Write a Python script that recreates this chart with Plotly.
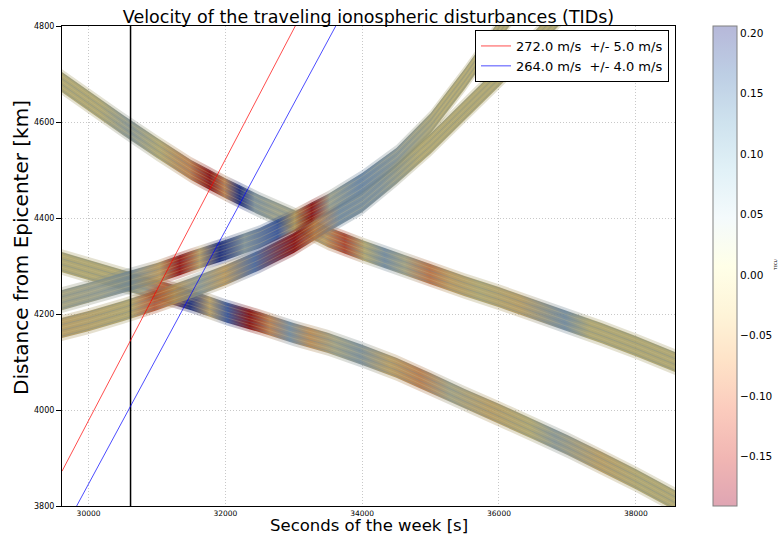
import plotly.graph_objects as go
from plotly.colors import get_colorscale, unlabel_rgb, hex_to_rgb

# ---------------- data ----------------
t_range = [29612, 38573]
d_range = [3800, 4800]
t_ticks = [30000, 32000, 34000, 36000, 38000]
d_ticks = [3800, 4000, 4200, 4400, 4600, 4800]
tec_range = [-0.191, 0.206]
cbar_ticks = [-0.15, -0.10, -0.05, 0.00, 0.05, 0.10, 0.15, 0.20]
cbar_text = ["\u22120.15", "\u22120.10", "\u22120.05", "0.00", "0.05", "0.10", "0.15", "0.20"]

event_t = 30614

vel_ms = [272.0, 264.0]
vel_err = [5.0, 4.0]
vel_ref_d = [4145, 4008]

knot_t = [29612, 30000, 30500, 31000, 31500, 32000, 32500, 33000, 33500, 34000,
          34500, 35000, 35500, 36000, 36500, 37000, 37500, 38000, 38573]

band_a_t = knot_t
band_a_d = [4683, 4644, 4594, 4546, 4500, 4462, 4427, 4396, 4360, 4333,
            4308, 4283, 4258, 4235, 4210, 4185, 4160, 4133, 4100]
band_b_t = knot_t
band_b_d = [4308, 4292, 4271, 4250, 4229, 4204, 4183, 4160, 4140, 4115,
            4088, 4056, 4023, 3992, 3960, 3927, 3892, 3856, 3812]
band_c_t = knot_t[:15]
band_c_d = [4229, 4244, 4265, 4285, 4310, 4333, 4358, 4392, 4429, 4473,
            4525, 4597, 4690, 4790, 4890]
band_d_t = knot_t[:16]
band_d_d = [4171, 4185, 4206, 4229, 4254, 4281, 4312, 4348, 4392, 4433,
            4492, 4555, 4625, 4695, 4765, 4840]

band_a_ct = [29612, 30161, 30614, 31039, 31478, 31770, 31990, 32209, 32429, 32721, 33087, 33453,
             33745, 34038, 34330, 34623, 34989, 35282, 35720, 36305, 36964, 37330, 38061, 38573]
band_a_tec = [0.0, 0.0, 0.04, 0.0, -0.05, -0.17, -0.05, 0.17, 0.05, 0.03, 0.02, -0.03,
              -0.10, 0.0, 0.06, 0.02, -0.06, -0.03, 0.0, -0.02, 0.06, 0.0, 0.0, 0.0]
band_b_ct = [29612, 30454, 30819, 31112, 31478, 31770, 32033, 32355, 32648, 32941, 33233,
             33599, 33965, 34404, 34843, 35282, 35867, 36452, 36818, 37476, 38061, 38573]
band_b_tec = [0.0, 0.0, 0.03, -0.08, 0.17, -0.02, 0.12, -0.18, -0.05, 0.06, -0.04,
              0.02, 0.05, -0.02, -0.05, 0.02, -0.02, 0.0, 0.04, -0.02, 0.0, 0.0]
band_c_ct = [29612, 30161, 30614, 31039, 31331, 31624, 31917, 32282, 32765, 33014, 33263,
             33526, 33965, 34550, 35135, 35720, 36500]
band_c_tec = [0.02, 0.03, 0.05, -0.03, -0.15, -0.02, 0.17, 0.05, 0.12, -0.02, -0.17,
              0.03, 0.07, 0.04, 0.0, 0.0, 0.0]
band_d_ct = [29612, 30614, 30965, 31258, 31624, 31990, 32429, 33014, 33307, 33672, 34257,
             34843, 37000]
band_d_tec = [-0.02, 0.0, -0.08, -0.03, 0.04, -0.03, 0.10, -0.17, -0.05, 0.06, 0.05,
              0.0, 0.0]

# ---------------- styling helpers ----------------
tone_stops = [(-0.191, (140, 20, 30)), (-0.13, (165, 50, 45)), (-0.07, (190, 115, 80)),
              (-0.03, (188, 160, 110)), (0.0, (180, 172, 125)), (0.03, (160, 165, 150)),
              (0.07, (120, 145, 170)), (0.12, (75, 100, 160)), (0.206, (30, 35, 115))]
core_alpha = 0.85
fringe_alpha = 0.3
half_core = 21
half_fringe = 27
stripe_offsets = [-17, -11, -5, 1, 7, 13, 19]


def tone_rgb(v, a):
    v = max(tone_stops[0][0], min(tone_stops[-1][0], v))
    c = tone_stops[-1][1]
    for (v0, c0), (v1, c1) in zip(tone_stops[:-1], tone_stops[1:]):
        if v0 <= v <= v1:
            f = (v - v0) / (v1 - v0) if v1 > v0 else 0
            c = [c0[i] + f * (c1[i] - c0[i]) for i in range(3)]
            break
    return [max(0, min(255, (ci - 255 * (1 - a)) / a)) for ci in c]


def rgba(c, a):
    return "rgba(%d,%d,%d,%.3f)" % (c[0], c[1], c[2], a)


# light RdYlBu for colorbar (alpha-blended on white)
cb_alpha = 0.35
cb_scale = []
for pos, col in get_colorscale("RdYlBu"):
    rgb = hex_to_rgb(col) if col.startswith("#") else unlabel_rgb(col)
    blended = [cb_alpha * x + (1 - cb_alpha) * 255 for x in rgb]
    cb_scale.append([pos, "rgb(%d,%d,%d)" % tuple(blended)])

fig = go.Figure()

bands = [(band_a_t, band_a_d, band_a_ct, band_a_tec),
         (band_b_t, band_b_d, band_b_ct, band_b_tec),
         (band_c_t, band_c_d, band_c_ct, band_c_tec),
         (band_d_t, band_d_d, band_d_ct, band_d_tec)]

for bt, bd, ct, cv in bands:
    t0, t1 = bt[0], bt[-1]
    for h, a in [(half_fringe, fringe_alpha), (half_core, core_alpha)]:
        xs = list(bt) + list(bt[::-1]) + [bt[0]]
        ys = [v + h for v in bd] + [v - h for v in bd[::-1]] + [bd[0] + h]
        cs = []
        for tt, vv in zip(ct, cv):
            p = max(0.0, min(1.0, (tt - t0) / (t1 - t0)))
            cs.append([p, rgba(tone_rgb(vv, core_alpha), a)])
        cs[0][0] = 0.0
        cs[-1][0] = 1.0
        fig.add_trace(go.Scatter(
            x=xs, y=ys, mode="lines", line=dict(width=0), fill="toself",
            fillgradient=dict(type="horizontal", colorscale=cs, start=t0, stop=t1),
            hoverinfo="skip", showlegend=False))
    for k, off in enumerate(stripe_offsets):
        col = "rgba(100,128,155,0.28)" if k % 2 == 0 else "rgba(215,200,140,0.25)"
        fig.add_trace(go.Scatter(
            x=bt, y=[v + off for v in bd], mode="lines",
            line=dict(color=col, width=1),
            hoverinfo="skip", showlegend=False))

# event time
fig.add_trace(go.Scatter(x=[event_t, event_t], y=d_range, mode="lines",
                         line=dict(color="black", width=1.5), showlegend=False, hoverinfo="skip"))

# velocity fits
vel_colors = ["rgba(255,0,0,0.7)", "rgba(0,0,255,0.7)"]
for v, e, dref, col in zip(vel_ms, vel_err, vel_ref_d, vel_colors):
    xs = t_range
    ys = [dref + v / 1000.0 * (t - event_t) for t in xs]
    fig.add_trace(go.Scatter(x=xs, y=ys, mode="lines", line=dict(color=col, width=1),
                             name="%.1f m/s\u00a0 +/- %.1f m/s" % (v, e), hoverinfo="skip"))

# colorbar carrier
fig.add_trace(go.Scatter(
    x=[None], y=[None], mode="markers", showlegend=False,
    marker=dict(color=[tec_range[0]], cmin=tec_range[0], cmax=tec_range[1], colorscale=cb_scale,
                showscale=True,
                colorbar=dict(x=(713 - 62) / 613, xanchor="left", xpad=0, y=0.5, yanchor="middle",
                              len=1, lenmode="fraction", ypad=0, thickness=24, thicknessmode="pixels",
                              outlinecolor="#808080", outlinewidth=1, tickvals=cbar_ticks,
                              ticktext=cbar_text, ticks="", tickfont=dict(size=10.5, color="black"))),
    hoverinfo="skip"))

grid_style = dict(showgrid=True, gridcolor="#c8c8c8", griddash="1px,2px", gridwidth=1,
                  showline=True, linecolor="black", linewidth=1, mirror=True,
                  tickcolor="black", zeroline=False)

fig.update_layout(
    width=778, height=536, margin=dict(l=62, r=103, t=26, b=30, autoexpand=False),
    paper_bgcolor="white", plot_bgcolor="white",
    font=dict(family="DejaVu Sans", color="black"),
    title=dict(text="Velocity of the traveling ionospheric disturbances (TIDs)",
               x=368.5 / 778, xanchor="center", y=1 - 17 / 536, yanchor="middle",
               font=dict(size=17.5, color="black")),
    xaxis=dict(range=t_range, tickvals=t_ticks, tickformat="d", tickfont=dict(size=7.5),
               ticks="", **grid_style),
    yaxis=dict(range=d_range, tickvals=d_ticks, tickformat="d", tickfont=dict(size=8),
               ticks="outside", ticklen=5, **grid_style),
    legend=dict(x=(669 - 62) / 613, xanchor="right", y=(506 - 30) / 480, yanchor="top",
                bgcolor="white", bordercolor="black", borderwidth=1,
                font=dict(size=13), tracegroupgap=0),
    showlegend=True,
    annotations=[
        dict(text="Seconds of the week [s]", xref="paper", yref="paper", x=0.5,
             y=(506 - 525.5) / 480, xanchor="center", yanchor="middle", showarrow=False,
             font=dict(size=16.5), borderpad=0),
        dict(text="Distance from Epicenter [km]", xref="paper", yref="paper",
             x=(21 - 62) / 613, y=(506 - 248) / 480, xanchor="center", yanchor="middle",
             textangle=-90, showarrow=False, font=dict(size=20)),
        dict(text="TECU", xref="paper", yref="paper", x=(775 - 62) / 613, y=(506 - 265) / 480,
             xanchor="center", yanchor="middle", textangle=-90, showarrow=False,
             font=dict(size=4)),
    ],
)

fig.write_html("out.html", config={"displayModeBar": False},
               post_script="document.body.style.margin='0px';")
